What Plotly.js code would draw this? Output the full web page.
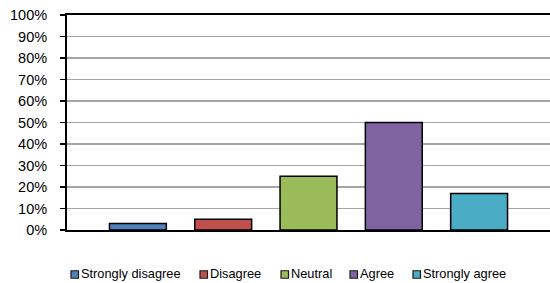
<!DOCTYPE html>
<html>
<head>
<meta charset="utf-8">
<script src="https://cdn.plot.ly/plotly-3.0.1.min.js"></script>
<style>
html,body{margin:0;padding:0;background:#fff;}
#chart{width:550px;height:283px;}
</style>
</head>
<body>
<div id="chart"></div>
<script>
const categories = ['Strongly disagree', 'Disagree', 'Neutral', 'Agree', 'Strongly agree'];
const values = [0.03, 0.05, 0.25, 0.50, 0.17];
const colors = ['#4f81bd', '#c0504d', '#9bbb59', '#8064a2', '#4bacc6'];
const groupLabel = ['Responses'];

// layout geometry (pixels)
const W = 550, H = 283;
const M = {l: 67, r: 0, t: 15, b: 53};
const plotW = W - M.l - M.r, plotH = H - M.t - M.b;
const legendSquareX = [71, 200, 281, 350, 413];
const legendY = 274.5;
const sq = 7.5;

const px2x = p => (p - M.l) / plotW;
const py2y = p => (H - M.b - p) / plotH;

const traces = categories.map((c, i) => ({
  type: 'bar',
  name: c,
  x: groupLabel,
  y: [values[i]],
  marker: {color: colors[i], line: {color: '#000', width: 1.5}},
  hoverinfo: 'name+y',
  showlegend: false
}));

const shapes = categories.map((c, i) => ({
  type: 'rect', xref: 'paper', yref: 'paper',
  x0: px2x(legendSquareX[i]), x1: px2x(legendSquareX[i] + sq),
  y0: py2y(legendY + sq / 2), y1: py2y(legendY - sq / 2),
  fillcolor: colors[i], line: {color: '#1a1a1a', width: 1.2}
}));

const annotations = categories.map((c, i) => ({
  text: c, xref: 'paper', yref: 'paper',
  x: px2x(legendSquareX[i] + sq + 1), y: py2y(legendY - 1),
  xanchor: 'left', yanchor: 'middle', showarrow: false,
  font: {size: 12.8, color: '#000'}, borderpad: 0
}));

const layout = {
  width: W, height: H,
  margin: M,
  paper_bgcolor: '#fff', plot_bgcolor: '#fff',
  font: {family: 'Liberation Sans, Arial, sans-serif', size: 11, color: '#000'},
  barmode: 'group',
  bargap: 0.117,
  bargroupgap: 0.333,
  showlegend: false,
  shapes: shapes,
  annotations: annotations,
  xaxis: {
    type: 'category',
    showticklabels: false, ticks: '',
    showline: true, linecolor: '#000', linewidth: 2, mirror: true,
    showgrid: false, zeroline: false, fixedrange: true
  },
  yaxis: {
    range: [0, 1], dtick: 0.1, tickformat: '.0%',
    ticks: 'outside', ticklen: 5, tickcolor: '#000', tickwidth: 1.3,
    ticklabelstandoff: 10,
    tickfont: {size: 14.5, color: '#000'},
    showline: true, linecolor: '#000', linewidth: 2,
    showgrid: true, gridcolor: '#a6a6a6', gridwidth: 1.3,
    zeroline: false, fixedrange: true
  }
};

Plotly.newPlot('chart', traces, layout, {displayModeBar: false, staticPlot: true});
</script>
</body>
</html>
